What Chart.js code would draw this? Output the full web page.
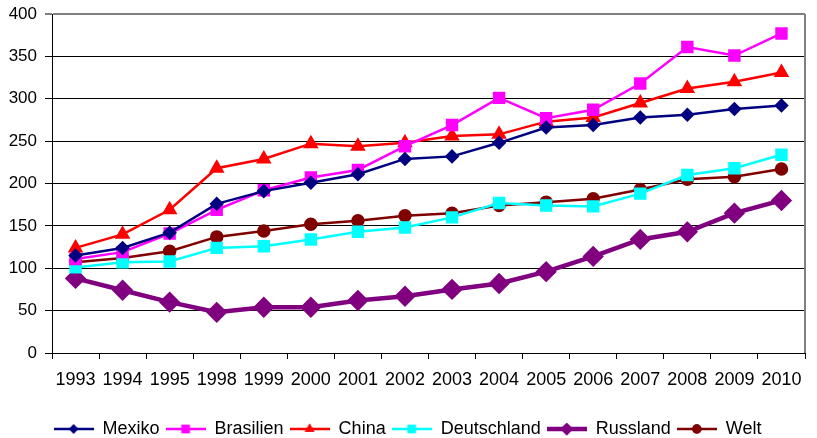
<!DOCTYPE html>
<html lang="de">
<head>
<meta charset="UTF-8" />
<title>Index</title>
<style>
    html, body { margin: 0; padding: 0; background: #fff; }
    #wrap { width: 817px; height: 438px; }
</style>
</head>
<body>
<div id="wrap"><canvas id="chart" width="817" height="438"></canvas></div>

<script src="https://cdn.jsdelivr.net/npm/chart.js"></script>
<script>
    const jahre = ["1993", "1994", "1995", "1998", "1999", "2000", "2001", "2002", "2003", "2004", "2005", "2006", "2007", "2008", "2009", "2010"];
    const mexiko      = [115, 124, 142, 176, 191, 201, 211, 229, 232, 248, 266, 269, 278, 281, 288, 292];
    const brasilien   = [111, 119, 141, 169, 192, 207, 216, 244, 269, 301, 277, 287, 318, 361, 351, 377];
    const china       = [124, 140, 169, 218, 229, 247, 244, 248, 256, 258, 273, 278, 295, 312, 320, 331];
    const deutschland = [101, 107, 108, 124, 126, 134, 143, 148, 160, 177, 174, 173, 188, 210, 218, 234];
    const russland    = [88, 74, 60, 48, 54, 54, 62, 67, 75, 82, 96, 114, 134, 143, 165, 180];
    const welt        = [107, 112, 120, 137, 144, 152, 156, 162, 165, 174, 178, 182, 193, 205, 208, 217];
    const yTicks = [0, 50, 100, 150, 200, 250, 300, 350, 400];

    const serien = [
        { label: "Mexiko", data: mexiko, color: "#000080", style: "rectRot", r: 5.5, w: 2.5 },
        { label: "Brasilien", data: brasilien, color: "#FF00FF", style: "rect", r: 7, w: 2.5 },
        { label: "China", data: china, color: "#FF0000", style: "triangle", r: 6.5, w: 2.5 },
        { label: "Deutschland", data: deutschland, color: "#00FFFF", style: "rect", r: 7, w: 2.5 },
        { label: "Russland", data: russland, color: "#800080", style: "rectRot", r: 7.5, w: 4.5 },
        { label: "Welt", data: welt, color: "#800000", style: "circle", r: 5.5, w: 2.5 }
    ];

    // kleines Bild fuer die Legende: Linie mit Marker in der Mitte
    function legendSymbol(s) {
        const c = document.createElement("canvas");
        c.width = 40; c.height = 16;
        const g = c.getContext("2d");
        g.strokeStyle = s.color;
        g.lineWidth = s.w;
        g.beginPath();
        g.moveTo(0, 8);
        g.lineTo(40, 8);
        g.stroke();
        g.fillStyle = s.color;
        g.beginPath();
        Chart.helpers.drawPoint(g, { pointStyle: s.style, radius: s.r * 0.85, borderWidth: 0 }, 20, 8);
        g.fill();
        return c;
    }

    const rahmen = {
        id: "rahmen",
        afterDraw(chart) {
            const a = chart.chartArea;
            const ctx = chart.ctx;
            ctx.save();
            ctx.strokeStyle = "#808080";
            ctx.lineWidth = 2;
            ctx.beginPath();
            ctx.moveTo(a.right, a.top);
            ctx.lineTo(a.right, a.bottom);
            ctx.stroke();
            ctx.restore();
        }
    };

    Chart.defaults.font.family = "'Liberation Sans', Arial, sans-serif";
    Chart.defaults.color = "#000";

    new Chart(document.getElementById("chart"), {
        type: "line",
        data: {
            labels: jahre,
            datasets: serien.map(s => ({
                label: s.label,
                data: s.data,
                borderColor: s.color,
                backgroundColor: s.color,
                pointBackgroundColor: s.color,
                pointBorderColor: s.color,
                pointStyle: s.style,
                pointRadius: s.r,
                pointHoverRadius: s.r,
                borderWidth: s.w,
                tension: 0,
                fill: false,
                legendImg: legendSymbol(s)
            }))
        },
        options: {
            responsive: false,
            animation: false,
            layout: { padding: { top: 14, right: 2, left: 0, bottom: -10 } },
            scales: {
                x: {
                    offset: true,
                    grid: { drawOnChartArea: false, drawTicks: true, tickLength: 6, color: "#000", offset: true },
                    border: { color: "#000", width: 1 },
                    ticks: { font: { size: 18 }, padding: 10, maxRotation: 0, autoSkip: false },
                    afterFit(scale) { scale.height = 61; }
                },
                y: {
                    min: 0,
                    max: 400,
                    afterBuildTicks(scale) { scale.ticks = yTicks.map(v => ({ value: v })); },
                    grid: {
                        color: ctx => ctx.tick && ctx.tick.value === 400 ? "#808080" : "#000",
                        lineWidth: ctx => ctx.tick && ctx.tick.value === 400 ? 2 : 1,
                        tickLength: 7
                    },
                    border: { color: "#000", width: 1 },
                    ticks: { font: { size: 17 }, padding: 8 },
                    afterFit(scale) {
                        scale.width = 52;
                        scale.paddingTop = 0;
                        scale.paddingBottom = 0;
                    }
                }
            },
            plugins: {
                legend: {
                    position: "bottom",
                    labels: {
                        font: { size: 18 },
                        usePointStyle: true,
                        pointStyleWidth: 40,
                        padding: 6,
                        generateLabels(chart) {
                            return chart.data.datasets.map((d, i) => ({
                                text: d.label,
                                pointStyle: d.legendImg,
                                fillStyle: d.borderColor,
                                strokeStyle: d.borderColor,
                                lineWidth: 0,
                                hidden: false,
                                datasetIndex: i
                            }));
                        }
                    }
                },
                tooltip: { enabled: false }
            }
        },
        plugins: [rahmen]
    });
</script>
</body>
</html>
